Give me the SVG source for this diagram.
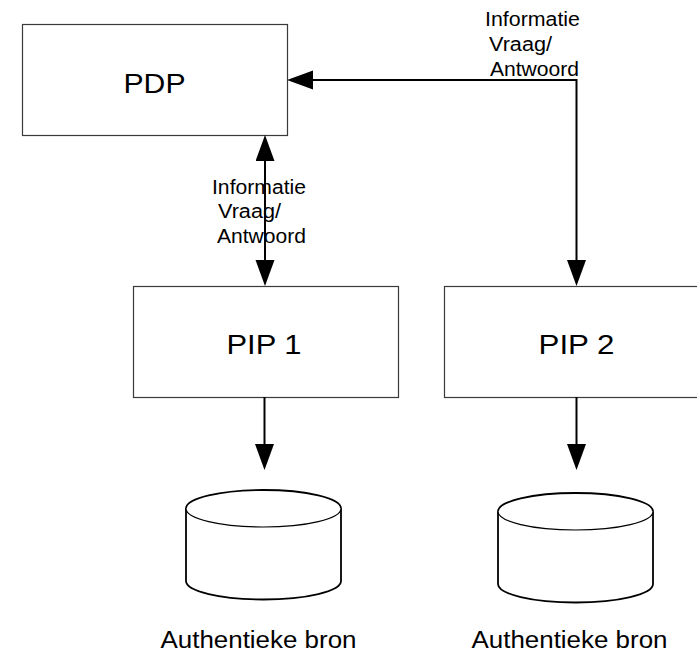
<svg xmlns="http://www.w3.org/2000/svg" width="697" height="653" viewBox="0 0 697 653">
  <style>
    .box { fill: #ffffff; stroke: #3a3a3a; stroke-width: 1.2; }
    .cyl { fill: #ffffff; stroke: #000000; stroke-width: 1.8; }
    .conn { fill: none; stroke: #000000; stroke-width: 2; }
    .big { font-family: "Liberation Sans", Arial, sans-serif; font-size: 28px; fill: #000; }
    .lbl { font-family: "Liberation Sans", Arial, sans-serif; font-size: 20px; fill: #000; }
    .src { font-family: "Liberation Sans", Arial, sans-serif; font-size: 23px; fill: #000; }
  </style>
  <defs>
    <marker id="arrow" markerUnits="userSpaceOnUse" markerWidth="28" markerHeight="20" refX="0" refY="9.5" orient="auto-start-reverse">
      <path d="M0,0 L26,9.5 L0,19 z" fill="#000000"/>
    </marker>
  </defs>
  <rect width="697" height="653" fill="#ffffff"/>

  <g id="pdp">
    <rect class="box" x="22.5" y="24.5" width="265" height="111"/>
    <text class="big" x="154.5" y="92.5" text-anchor="middle" textLength="62" lengthAdjust="spacingAndGlyphs">PDP</text>
  </g>

  <g id="pip1">
    <rect class="box" x="133.5" y="286.5" width="265" height="111"/>
    <text class="big" x="264" y="353.5" text-anchor="middle" textLength="75" lengthAdjust="spacingAndGlyphs">PIP 1</text>
  </g>

  <g id="pip2">
    <rect class="box" x="444.5" y="286.5" width="265" height="111"/>
    <text class="big" x="576.5" y="353.5" text-anchor="middle" textLength="76" lengthAdjust="spacingAndGlyphs">PIP 2</text>
  </g>

  <g id="bron1">
    <path class="cyl" d="M186,508.5 A77.5,18.5 0 0 1 341,508.5 L341,581 A77.5,18.5 0 0 1 186,581 Z"/>
    <path class="cyl" d="M186,508.5 A77.5,18.5 0 0 0 341,508.5" style="stroke-width:1.2"/>
    <text class="src" x="160.5" y="648" textLength="196" lengthAdjust="spacingAndGlyphs">Authentieke bron</text>
  </g>

  <g id="bron2">
    <path class="cyl" d="M498,511.5 A77.5,18.5 0 0 1 653,511.5 L653,584 A77.5,18.5 0 0 1 498,584 Z"/>
    <path class="cyl" d="M498,511.5 A77.5,18.5 0 0 0 653,511.5" style="stroke-width:1.2"/>
    <text class="src" x="471.5" y="648" textLength="196" lengthAdjust="spacingAndGlyphs">Authentieke bron</text>
  </g>

  <g id="connectors">
    <line class="conn" x1="265" y1="161" x2="265" y2="260" marker-start="url(#arrow)" marker-end="url(#arrow)"/>
    <polyline class="conn" points="313,80 576.5,80 576.5,260" marker-start="url(#arrow)" marker-end="url(#arrow)"/>
    <line class="conn" x1="264.5" y1="397" x2="264.5" y2="444" marker-end="url(#arrow)"/>
    <line class="conn" x1="576.5" y1="397" x2="576.5" y2="444" marker-end="url(#arrow)"/>
  </g>

  <g id="label-pdp-pip1">
    <text class="lbl" x="212" y="194" textLength="94" lengthAdjust="spacingAndGlyphs">Informatie</text>
    <text class="lbl" x="218" y="218" textLength="63" lengthAdjust="spacingAndGlyphs">Vraag/</text>
    <text class="lbl" x="217" y="243" textLength="89" lengthAdjust="spacingAndGlyphs">Antwoord</text>
  </g>

  <g id="label-pdp-pip2">
    <text class="lbl" x="485" y="26" textLength="95" lengthAdjust="spacingAndGlyphs">Informatie</text>
    <text class="lbl" x="489" y="51" textLength="63" lengthAdjust="spacingAndGlyphs">Vraag/</text>
    <text class="lbl" x="490" y="76" textLength="89" lengthAdjust="spacingAndGlyphs">Antwoord</text>
  </g>
</svg>
